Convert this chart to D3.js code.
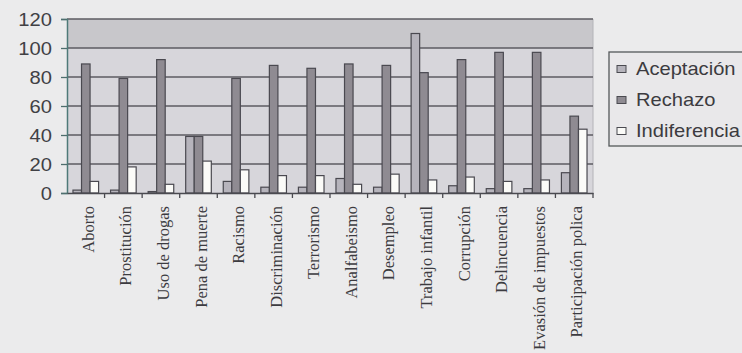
<!DOCTYPE html>
<html>
<head>
<meta charset="utf-8">
<script src="https://cdn.jsdelivr.net/npm/d3@7"></script>
<style>
html,body{margin:0;padding:0;background:#ebebec;}
svg{display:block;}
</style>
</head>
<body>
<svg id="chart" width="742" height="353"></svg>
<script>
const categories = ["Aborto","Prostitución","Uso de drogas","Pena de muerte","Racismo","Discriminación","Terrorismo","Analfabeismo","Desempleo","Trabajo infantil","Corrupción","Delincuencia","Evasión de impuestos","Participación polica"];
const seriesNames = ["Aceptación","Rechazo","Indiferencia"];
const aceptacion   = [2, 2, 1, 39, 8, 4, 4, 10, 4, 110, 5, 3, 3, 14];
const rechazo      = [89, 79, 92, 39, 79, 88, 86, 89, 88, 83, 92, 97, 97, 53];
const indiferencia = [8, 18, 6, 22, 16, 12, 12, 6, 13, 9, 11, 8, 9, 44];
const yTicks = [0, 20, 40, 60, 80, 100, 120];

(function () {
const series = [aceptacion, rechazo, indiferencia];
const fills = ["#b6b4bc", "#8f8b92", "#fbfbf8"];

const svg = d3.select("#chart");
const pLeft = 67, pRight = 593, pTop = 19, pBottom = 193;

const x = d3.scaleBand().domain(categories).range([pLeft, pRight]).paddingInner(0).paddingOuter(0);
const xs = d3.scaleBand().domain(seriesNames).range([0, x.bandwidth()]).paddingInner(0).paddingOuter(0.7);
const y = d3.scaleLinear().domain([0, 120]).range([pBottom, pTop]);

// plot background
svg.append("rect").attr("x", pLeft).attr("y", pTop).attr("width", pRight - pLeft).attr("height", pBottom - pTop).attr("fill", "#d7d6db");
svg.append("rect").attr("x", pLeft).attr("y", y(120)).attr("width", pRight - pLeft).attr("height", y(100) - y(120)).attr("fill", "#c8c7cb");
svg.append("line").attr("x1", pRight).attr("x2", pRight).attr("y1", pTop).attr("y2", pBottom).attr("stroke", "#b4b4b8").attr("stroke-width", 1);

// gridlines
svg.append("g").selectAll("line").data(yTicks.filter(d => d > 0)).join("line")
  .attr("x1", pLeft).attr("x2", pRight)
  .attr("y1", d => y(d)).attr("y2", d => y(d))
  .attr("stroke", "#5c5b62").attr("stroke-width", 1.3);

// bars
const g = svg.append("g");
series.forEach((vals, si) => {
  g.append("g").selectAll("rect").data(categories).join("rect")
    .attr("x", (c) => x(c) + xs(seriesNames[si]))
    .attr("y", (c, i) => y(vals[i]))
    .attr("width", xs.bandwidth())
    .attr("height", (c, i) => y(0) - y(vals[i]))
    .attr("fill", fills[si])
    .attr("stroke", "#4a4950").attr("stroke-width", 1.2);
});

// y axis
const yAxis = d3.axisLeft(y).tickValues(yTicks).tickSize(6).tickPadding(0).tickFormat("");
const ya = svg.append("g").attr("transform", `translate(${pLeft},0)`).call(yAxis);
ya.select(".domain").attr("stroke", "#4e7a78").attr("stroke-width", 1.5);
ya.selectAll(".tick line").attr("stroke", "#4e6e6e").attr("stroke-width", 1.3);
svg.append("g").selectAll("text").data(yTicks).join("text")
  .attr("transform", d => `translate(52,${y(d) + 1}) scale(1.12,1)`)
  .attr("text-anchor", "end").attr("dy", "0.35em")
  .attr("font-family", "Liberation Sans, Arial, sans-serif").attr("font-size", 18)
  .attr("fill", "#404044").text(d => d);

// x axis
const xAxis = d3.axisBottom(x).tickSize(0).tickFormat("");
const xa = svg.append("g").attr("transform", `translate(0,${pBottom})`).call(xAxis);
xa.select(".domain").attr("stroke", "#4a4a50").attr("stroke-width", 1.5);
const bounds = categories.map(c => x(c) + x.bandwidth());
svg.append("g").selectAll("line").data(bounds).join("line")
  .attr("x1", d => d).attr("x2", d => d)
  .attr("y1", pBottom).attr("y2", pBottom + 5)
  .attr("stroke", "#4a4a50").attr("stroke-width", 1.3);

// x labels
svg.append("g").selectAll("text").data(categories).join("text")
  .attr("transform", c => `translate(${x(c) + x.bandwidth() / 2 + 8},206) rotate(-90)`)
  .attr("text-anchor", "end")
  .attr("font-family", "Liberation Serif, Times New Roman, serif")
  .attr("font-size", 16.5)
  .attr("fill", "#3c3b40")
  .text(d => d);

// legend
const lg = svg.append("g");
lg.append("rect").attr("x", 609).attr("y", 52).attr("width", 140).attr("height", 94)
  .attr("fill", "#e9e8ea").attr("stroke", "#55595a").attr("stroke-width", 1.3);
seriesNames.forEach((n, i) => {
  const yy = 69 + i * 31;
  lg.append("rect").attr("x", 617).attr("y", yy - 3.5).attr("width", 9).attr("height", 7)
    .attr("fill", fills[i]).attr("stroke", "#4a4a50").attr("stroke-width", 1);
  lg.append("text").attr("transform", `translate(636,${yy + 6}) scale(1.15,1)`)
    .attr("font-family", "Liberation Sans, Arial, sans-serif").attr("font-size", 17.5)
    .attr("fill", "#3c3b40").text(n);
});
})();
</script>
</body>
</html>
